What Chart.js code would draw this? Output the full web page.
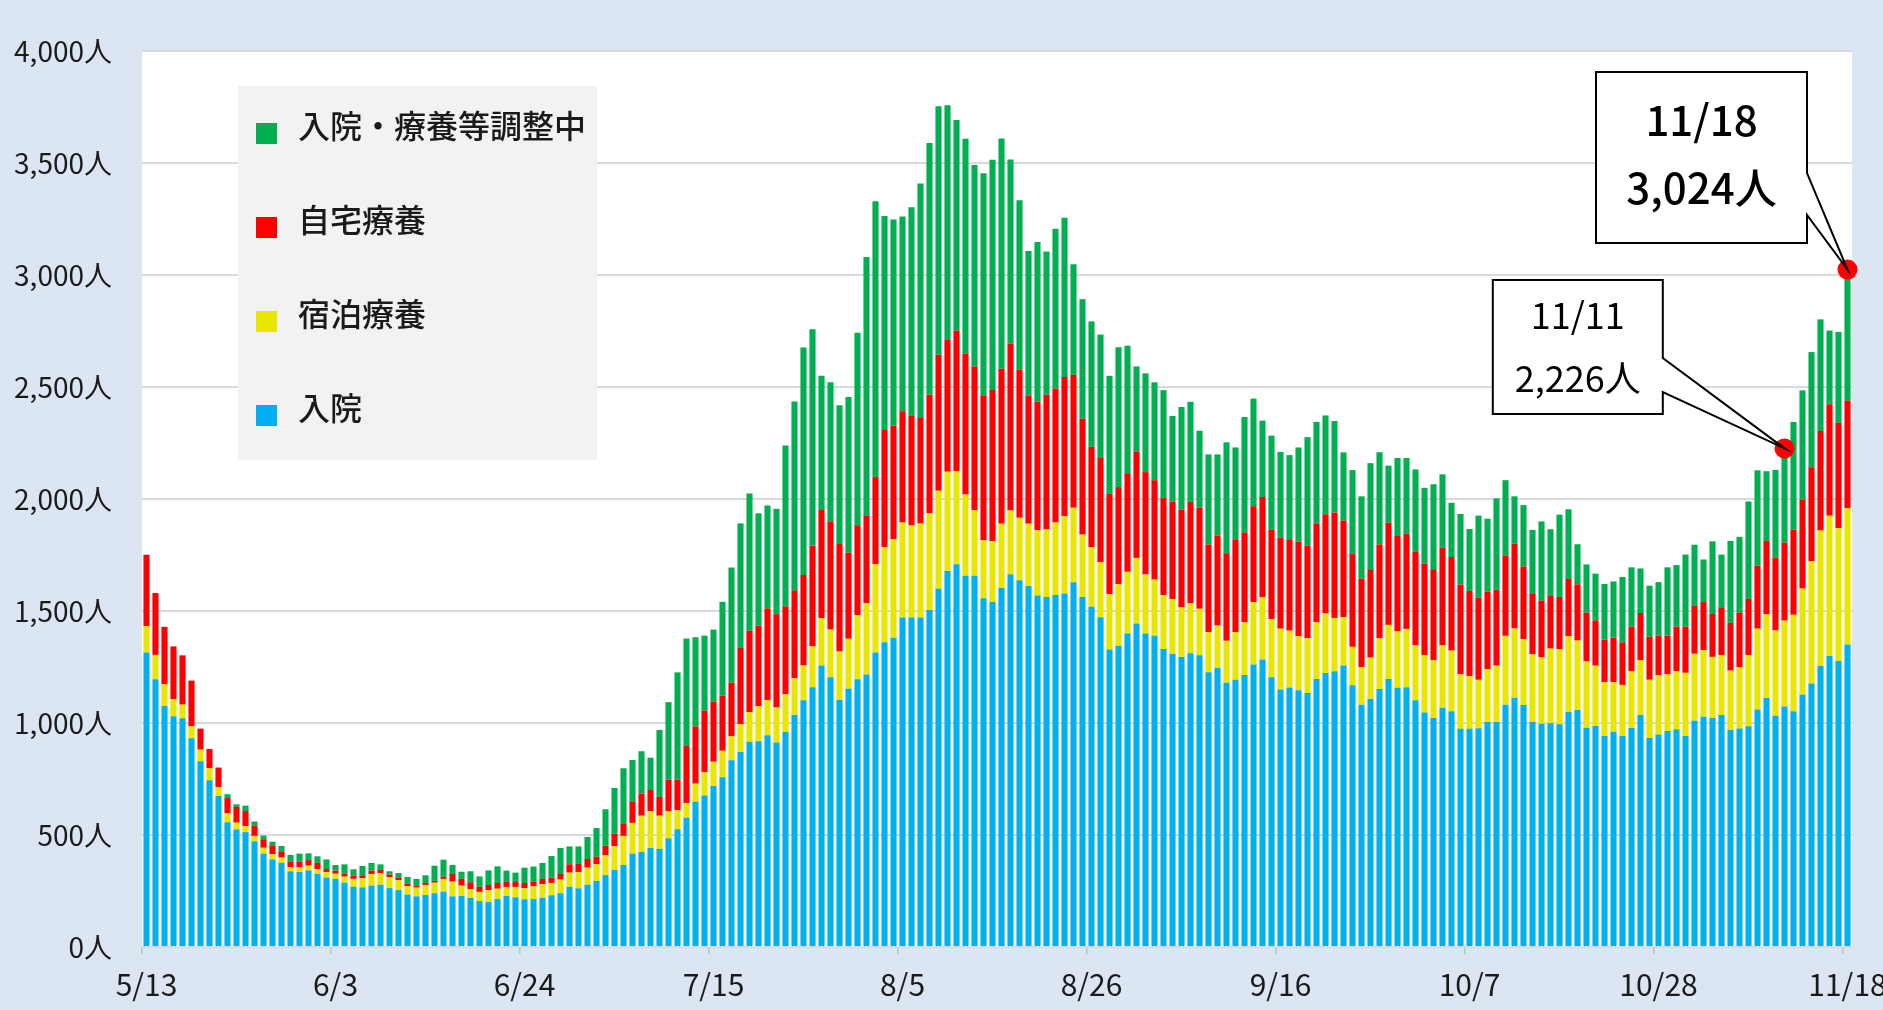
<!DOCTYPE html>
<html><head><meta charset="utf-8">
<script src="https://cdn.jsdelivr.net/npm/chart.js@4.4.0/dist/chart.umd.min.js"></script>
<style>
html,body{margin:0;padding:0;background:#dce6f2;overflow:hidden;}
#box{position:relative;width:1883px;height:1010px;}
</style></head><body>
<div id="box"><canvas id="c"></canvas></div>
<script>
// ---- data ----
const monthSpans = [[5,13,31],[6,1,30],[7,1,31],[8,1,31],[9,1,30],[10,1,31],[11,1,18]];
const categories = monthSpans.flatMap(([m,a,b]) => Array.from({length:b-a+1},(_,k)=>`${m}/${a+k}`));
const tickLabels = ['5/13','6/3','6/24','7/15','8/5','8/26','9/16','10/7','10/28','11/18'];
const seriesNames = ['入院','宿泊療養','自宅療養','入院・療養等調整中'];
const hospital = [1315,1195,1076,1030,1021,932,829,744,674,557,525,513,472,417,391,376,338,335,342,327,
310,304,287,269,266,274,278,263,254,234,226,232,240,247,226,228,219,205,201,214,
228,222,213,214,219,231,240,268,262,278,295,321,344,366,417,424,442,438,485,526,
577,648,676,719,758,834,871,916,918,945,913,960,1036,1102,1160,1257,1204,1104,1153,1195,
1217,1315,1361,1381,1471,1471,1471,1505,1599,1679,1709,1657,1657,1557,1540,1603,1664,1637,1612,1569,
1562,1571,1578,1628,1562,1519,1472,1328,1345,1399,1444,1399,1389,1330,1308,1295,1311,1302,1227,1247,
1180,1193,1214,1261,1284,1204,1150,1159,1146,1134,1196,1223,1231,1257,1168,1082,1107,1152,1196,1157,
1160,1102,1047,1022,1068,1053,974,974,977,1005,1005,1082,1113,1080,1004,997,999,994,1049,1058,
979,987,942,961,942,978,1036,933,949,964,972,942,1010,1028,1022,1036,969,976,986,1060,
1112,1032,1074,1052,1126,1176,1255,1299,1277,1351];
const hotel = [118,109,97,77,61,53,52,54,40,40,30,27,24,26,23,23,19,21,21,21,
25,23,27,35,41,52,52,48,44,38,39,45,47,57,66,46,40,41,53,46,
40,46,49,58,61,55,61,64,73,76,74,88,107,130,137,162,164,148,122,84,
66,81,104,108,118,106,124,133,157,157,156,168,164,155,182,211,213,215,223,286,
318,394,424,440,424,411,419,431,438,443,416,363,294,259,271,287,285,279,278,291,
302,324,345,333,279,265,246,248,274,276,293,264,251,241,245,221,223,208,179,188,
187,213,237,278,278,260,271,253,241,245,255,266,238,216,172,168,185,226,242,252,
260,245,256,258,279,270,243,235,216,236,251,307,309,295,303,296,333,335,339,310,
296,269,241,221,228,253,245,260,264,253,259,282,299,297,273,267,265,274,317,361,
373,381,383,431,474,546,604,626,592,608];
const home = [318,276,256,235,220,204,94,86,87,68,70,67,46,38,40,28,25,26,25,28,
13,14,13,14,13,15,14,12,13,12,9,9,8,9,34,31,30,23,23,26,
25,22,24,21,24,24,25,37,36,39,34,43,55,53,96,99,95,84,140,137,
255,256,275,268,246,240,340,363,360,410,417,393,392,404,450,483,483,480,384,402,
389,389,523,507,497,490,475,529,607,588,627,629,641,644,676,691,745,662,572,574,
601,598,622,593,517,449,465,447,434,440,475,457,444,433,436,437,453,452,391,402,
391,411,400,429,447,400,407,405,423,413,440,443,470,430,414,394,391,419,456,426,
425,417,409,403,435,418,401,381,367,346,339,359,378,324,272,253,235,234,255,251,
218,202,189,199,190,199,210,192,177,173,199,206,214,215,192,214,213,243,251,281,
328,325,349,380,397,420,445,498,471,480];
const adjusting = [0,0,0,0,0,0,0,0,0,17,12,24,18,16,16,24,29,35,30,29,
43,25,42,29,42,34,25,15,19,29,30,34,68,77,40,31,49,46,65,74,
48,42,68,66,71,96,116,80,78,98,128,163,204,249,185,189,144,299,346,479,
479,398,335,322,419,514,556,612,501,459,470,718,843,1015,966,599,621,620,695,859,
1156,1231,955,920,869,930,1043,1124,1109,1048,940,959,899,994,1028,1028,822,756,645,713,
640,713,711,494,534,560,551,527,624,569,380,441,437,482,382,458,447,343,402,362,
495,413,515,480,341,419,382,379,420,484,453,441,409,305,375,368,477,412,255,348,
338,368,338,383,328,242,315,276,366,325,408,336,212,274,283,354,298,367,311,179,
215,209,249,251,292,265,199,228,239,305,275,322,273,190,324,235,366,338,435,426,
311,392,420,481,488,514,498,329,406,585];
const seriesColors = ['#00b0f0','#eae600','#ff0000','#00b050'];

// ---- style ----
const FONT = "'Noto Sans CJK JP','Noto Sans',sans-serif";
const TEXT = '#1a1a1a';

const plotBg = {
  id:'plotBg',
  beforeDraw(chart){
    const {ctx, chartArea:a} = chart;
    ctx.save(); ctx.fillStyle='#ffffff';
    ctx.fillRect(a.left, a.top, a.right-a.left, a.bottom-a.top);
    ctx.restore();
  }
};

const legendBox = {
  id:'legendBox',
  afterDatasetsDraw(chart){
    const {ctx, chartArea:a} = chart;
    const bx = a.left + 96, by = a.top + 35, bw = 359, bh = 374;
    ctx.save();
    ctx.fillStyle = '#f2f2f2';
    ctx.fillRect(bx, by, bw, bh);
    const ds = chart.data.datasets.slice().reverse();
    ds.forEach((d, i) => {
      const cy = by + 40 + i * 94;
      ctx.fillStyle = d.backgroundColor;
      ctx.fillRect(bx + 18, cy - 3, 21, 21);
      ctx.fillStyle = TEXT;
      ctx.font = `500 32px ${FONT}`;
      ctx.textBaseline = 'middle';
      ctx.textAlign = 'left';
      ctx.fillText(d.label, bx + 60, cy);
    });
    ctx.restore();
  }
};

const calloutCfg = [
  {date:'11/18', L:-251.5, R:-40.5, T:-197.6, B:-26.6, W1:-96.6, W2:-54.6, font:`500 42px ${FONT}`, ly:[48,116]},
  {date:'11/11', L:-291.7, R:-121.7, T:-168.4, B:-34.4, W1:-90.4, W2:-56.4, font:`36px ${FONT}`, ly:[35,98]}
];

const callouts = {
  id:'callouts',
  afterDatasetsDraw(chart){
    const {ctx} = chart;
    const xs = chart.scales.x, ys = chart.scales.y;
    calloutCfg.forEach(c => {
      const idx = categories.indexOf(c.date);
      const total = chart.data.datasets.reduce((s,d)=>s + d.data[idx], 0);
      const px = xs.getPixelForValue(idx), py = ys.getPixelForValue(total);
      const L = px + c.L, R = px + c.R, T = py + c.T, B = py + c.B;
      const path = () => {
        ctx.beginPath();
        ctx.moveTo(L,T); ctx.lineTo(R,T); ctx.lineTo(R,py+c.W1); ctx.lineTo(px,py);
        ctx.lineTo(R,py+c.W2); ctx.lineTo(R,B); ctx.lineTo(L,B); ctx.closePath();
      };
      ctx.save();
      path(); ctx.fillStyle = '#ffffff'; ctx.fill();
      ctx.beginPath(); ctx.arc(px, py, 10, 0, Math.PI*2);
      ctx.fillStyle = '#ff0000'; ctx.fill();
      path(); ctx.strokeStyle = '#000000'; ctx.lineWidth = 2; ctx.lineJoin='miter'; ctx.stroke();
      ctx.fillStyle = '#000000'; ctx.font = c.font;
      ctx.textAlign = 'center'; ctx.textBaseline = 'middle';
      const cx = (L + R) / 2;
      ctx.fillText(c.date, cx, T + c.ly[0]);
      ctx.fillText(total.toLocaleString('en-US') + '人', cx, T + c.ly[1]);
      ctx.restore();
    });
  }
};

const values = [hospital, hotel, home, adjusting];
new Chart(document.getElementById('c'), {
  type:'bar',
  data:{
    labels: categories,
    datasets: seriesNames.map((n,i)=>({
      label:n, data:values[i], backgroundColor:seriesColors[i], borderWidth:0,
      categoryPercentage:1, barPercentage:0.68, stack:'s'
    }))
  },
  options:{
    responsive:true, maintainAspectRatio:false, animation:false,
    layout:{padding:{left:12, top:51, right:0, bottom:0}},
    plugins:{legend:{display:false}, tooltip:{enabled:false}},
    scales:{
      x:{
        stacked:true, offset:true,
        grid:{offset:true, drawOnChartArea:false, drawTicks:true, tickLength:7, lineWidth:1.5,
          color:(ctx)=> (ctx.index!==undefined && tickLabels.includes(categories[ctx.index])) ? '#bfbfbf' : 'rgba(0,0,0,0)'},
        border:{display:true, color:'#d9d9d9', width:2},
        ticks:{autoSkip:false, maxRotation:0, minRotation:0, padding:13, color:TEXT,
          font:{family:FONT, size:30},
          callback:(v,i)=> tickLabels.includes(categories[i]) ? categories[i] : ''},
        afterFit:(s)=>{ s.height = 63; s.paddingRight = 31; s.paddingLeft = 0; }
      },
      y:{
        stacked:true, min:0, max:4000,
        grid:{color:'#dadada', lineWidth:2, drawTicks:false},
        border:{display:false},
        ticks:{stepSize:500, padding:30, color:TEXT, font:{family:FONT, size:28},
          callback:(v)=> v.toLocaleString('en-US') + '人'},
        afterFit:(s)=>{ s.width = 130; }
      }
    }
  },
  plugins:[plotBg, legendBox, callouts]
});
</script>
</body></html>
